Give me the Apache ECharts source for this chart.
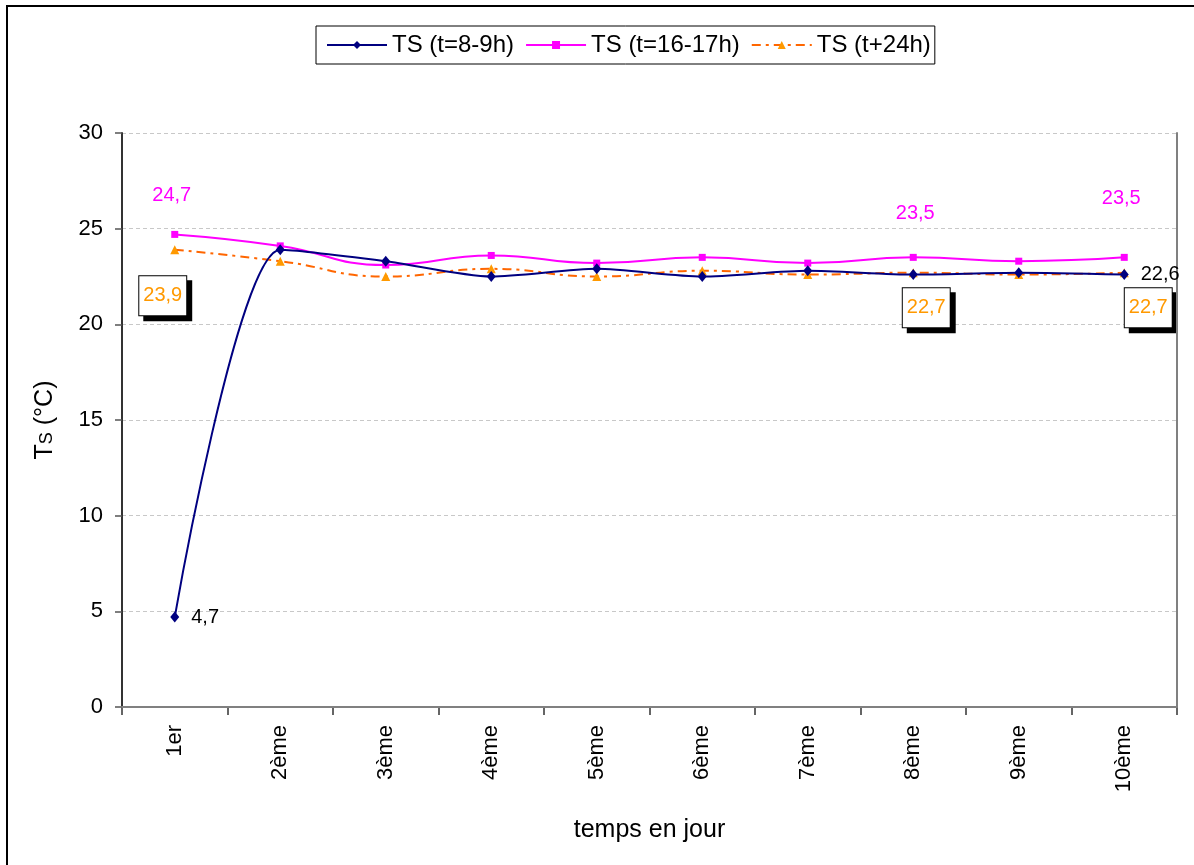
<!DOCTYPE html>
<html>
<head>
<meta charset="utf-8">
<script src="https://cdn.jsdelivr.net/npm/echarts@6/dist/echarts.min.js"></script>
<style>
  html, body { margin: 0; padding: 0; background: #fff; }
  #chart { width: 1194px; height: 865px; }
</style>
</head>
<body>
<div id="chart"></div>
<script>
// Days of the measurement campaign
const categories = ['1er', '2ème', '3ème', '4ème', '5ème', '6ème', '7ème', '8ème', '9ème', '10ème'];

// Surface temperature TS (°C) for each reading time
const ts8to9h = [4.7, 23.9, 23.3, 22.5, 22.9, 22.5, 22.8, 22.6, 22.7, 22.6];
const ts16to17h = [24.7, 24.1, 23.1, 23.6, 23.2, 23.5, 23.2, 23.5, 23.3, 23.5];
const tsPlus24h = [23.9, 23.3, 22.5, 22.9, 22.5, 22.8, 22.6, 22.7, 22.6, 22.7];

const seriesNames = ['TS (t=8-9h)', 'TS (t=16-17h)', 'TS (t+24h)'];

const FONT = '"Liberation Sans", Arial, sans-serif';
const fmt = v => String(v).replace('.', ',');

// Per-point label settings (which points carry a value label, and how it sits)
const blueLabel = { show: true, position: 'right', distance: 12, color: '#000', fontSize: 20, fontFamily: FONT, formatter: p => fmt(p.value) };
const pinkLabel = off => ({ show: true, position: 'inside', offset: off, color: '#FF00FF', fontSize: 20, fontFamily: FONT, formatter: p => fmt(p.value) });
const boxLabel = off => ({
  show: true, position: 'inside', offset: off, color: '#FF9900', fontSize: 20, fontFamily: FONT,
  backgroundColor: '#fff', borderColor: '#000', borderWidth: 1, padding: [9, 4, 8, 4], lineHeight: 22,
  shadowColor: '#000', shadowOffsetX: 5, shadowOffsetY: 5, shadowBlur: 0,
  formatter: p => fmt(p.value)
});

const blueLabels = { 0: blueLabel, 9: blueLabel };
const pinkLabels = { 0: pinkLabel([-3, -39]), 7: pinkLabel([2, -44]), 9: pinkLabel([-3, -59]) };
const orangeLabels = { 0: boxLabel([-12, 46]), 7: boxLabel([13, 35]), 9: boxLabel([24, 35]) };

const withLabels = (values, labels) => values.map((v, i) => labels[i] ? { value: v, label: labels[i] } : v);

const chart = echarts.init(document.getElementById('chart'), null, { renderer: 'canvas' });

chart.setOption({
  backgroundColor: '#fff',
  animation: false,
  textStyle: { fontFamily: FONT },
  graphic: [{
    type: 'rect', z: 100, silent: true,
    shape: { x: 7, y: 6, width: 1400, height: 1000 },
    style: { fill: null, stroke: '#000', lineWidth: 2 }
  }],
  legend: {
    data: seriesNames,
    left: 316, top: 26,
    padding: [7, 4, 7, 10],
    borderColor: '#000', borderWidth: 1,
    itemWidth: 60, itemHeight: 10, itemGap: 11,
    textStyle: { fontSize: 24, color: '#000', fontFamily: FONT }
  },
  grid: { left: 122, right: 17, top: 133, bottom: 158, containLabel: false },
  xAxis: [{
    type: 'category',
    data: categories,
    boundaryGap: true,
    axisLine: { lineStyle: { color: '#333', width: 2 } },
    axisTick: { show: true, alignWithLabel: false, length: 8, lineStyle: { color: '#333', width: 1.5 } },
    axisLabel: { rotate: 90, fontSize: 22, margin: 18, color: '#000', fontFamily: FONT },
    name: 'temps en jour',
    nameLocation: 'middle', nameGap: 111,
    nameTextStyle: { fontSize: 25, color: '#000', fontFamily: FONT }
  }, {
    type: 'category', position: 'top', z: 3,
    data: categories,
    axisLine: { lineStyle: { color: '#808080', width: 2 } },
    axisTick: { show: false }, axisLabel: { show: false }
  }],
  yAxis: [{
    type: 'value', min: 0, max: 30, interval: 5,
    axisLine: { show: true, lineStyle: { color: '#333', width: 2 } },
    axisTick: { show: true, length: 7, lineStyle: { color: '#555', width: 1.5 } },
    axisLabel: { fontSize: 22, margin: 19, color: '#000', fontFamily: FONT },
    splitLine: { lineStyle: { color: '#c8c8c8', type: [4, 3], width: 1 } },
    name: '{t|T}{s|S}{t| (°C)}',
    nameLocation: 'middle', nameGap: 64,
    nameTextStyle: {
      color: '#000',
      rich: {
        t: { fontSize: 25, fontFamily: FONT, color: '#000' },
        s: { fontSize: 18, fontFamily: FONT, color: '#000', padding: [4, 0, 0, 0] }
      }
    }
  }, {
    type: 'value', position: 'right', min: 0, max: 30, interval: 5, z: 3,
    axisLine: { show: true, lineStyle: { color: '#808080', width: 2 } },
    axisTick: { show: false }, axisLabel: { show: false }, splitLine: { show: false }
  }],
  series: [{
    name: seriesNames[0], type: 'line', smooth: 0.25,
    data: withLabels(ts8to9h, blueLabels),
    symbol: 'diamond', symbolSize: [9, 11],
    itemStyle: { color: '#000080' },
    lineStyle: { color: '#000080', width: 2 },
    z: 4
  }, {
    name: seriesNames[1], type: 'line', smooth: 0.5,
    data: withLabels(ts16to17h, pinkLabels),
    symbol: 'rect', symbolSize: 7,
    itemStyle: { color: '#FF00FF' },
    lineStyle: { color: '#FF00FF', width: 2 },
    z: 3
  }, {
    name: seriesNames[2], type: 'line', smooth: 0.5,
    data: withLabels(tsPlus24h, orangeLabels),
    symbol: 'triangle', symbolSize: 9,
    itemStyle: { color: '#FF9900' },
    lineStyle: { color: '#FF6600', width: 2, type: [9, 5, 3, 5] },
    z: 2
  }]
});
</script>
</body>
</html>
